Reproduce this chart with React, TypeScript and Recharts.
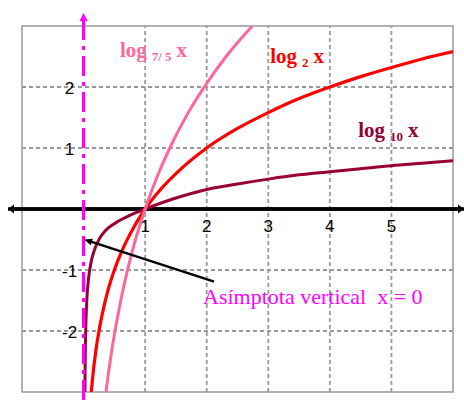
import { LineChart, Line, XAxis, YAxis, ReferenceLine, ReferenceArea, ReferenceDot } from 'recharts';

// sample points along each logarithm curve
const xLog75 = [0.364, 0.4, 0.45, 0.5, 0.6, 0.7, 0.8, 0.9, 1, 1.2, 1.4, 1.7, 2, 2.3, 2.74];
const yLog75 = [-3, -2.72, -2.37, -2.06, -1.52, -1.06, -0.66, -0.31, 0, 0.54, 1, 1.58, 2.06, 2.48, 3];

const xLog2 = [0.125, 0.15, 0.2, 0.25, 0.3, 0.4, 0.5, 0.6, 0.75, 1, 1.25, 1.5, 2, 2.5, 3, 3.5, 4, 4.5, 5, 5.5, 6];
const yLog2 = [-3, -2.74, -2.32, -2, -1.74, -1.32, -1, -0.74, -0.42, 0, 0.32, 0.58, 1, 1.32, 1.58, 1.81, 2, 2.17, 2.32, 2.46, 2.58];

const xLog10 = [0.022, 0.025, 0.03, 0.04, 0.055, 0.08, 0.12, 0.18, 0.25, 0.35, 0.5, 0.7, 0.85, 1, 1.5, 2, 2.5, 3, 3.5, 4, 4.5, 5, 5.5, 6];
const yLog10 = [-3, -2.6, -2.2, -1.8, -1.45, -1.15, -0.88, -0.66, -0.5, -0.36, -0.24, -0.13, -0.06, 0, 0.18, 0.32, 0.41, 0.49, 0.56, 0.61, 0.66, 0.71, 0.75, 0.79];

const gridX = [1, 2, 3, 4, 5];
const gridY = [-2, -1, 1, 2];
const xTickLabels = ['1', '2', '3', '4', '5'];
const yTickLabels = ['2', '1', '-1', '-2'];
const yTickValues = [2, 1, -1, -2];

const toPoints = (xs: number[], ys: number[]) => xs.map((x, i) => ({ x, y: ys[i] }));

const PINK = '#ff6699';
const RED = '#ff0000';
const MAROON = '#990033';
const MAGENTA = '#ff00ff';
const GRAY = '#999999';

const serif = '"Liberation Serif", "Times New Roman", serif';
const sans = '"Liberation Sans", Arial, sans-serif';

// line with a filled arrowhead at (x2, y2)
const arrow = (x1: number, y1: number, x2: number, y2: number, color: string, width: number, len: number, half: number) => {
  const dx = x2 - x1;
  const dy = y2 - y1;
  const d = Math.hypot(dx, dy) || 1;
  const ux = dx / d;
  const uy = dy / d;
  const bx = x2 - ux * len;
  const by = y2 - uy * len;
  const pts = `${x2},${y2} ${bx - uy * half},${by + ux * half} ${bx + uy * half},${by - ux * half}`;
  return (
    <g>
      <line x1={x1} y1={y1} x2={bx + ux} y2={by + uy} stroke={color} strokeWidth={width} />
      <polygon points={pts} fill={color} />
    </g>
  );
};

const logLabel = (sub: string, color: string) => (p: any) => (
  <text x={p.cx} y={p.cy} fill={color} fontFamily={serif} fontWeight="bold" fontSize={21}>
    <tspan>log</tspan>
    <tspan dx={5} dy={4} fontSize={13}>{sub}</tspan>
    <tspan dx={5} dy={-4}>x</tspan>
  </text>
);

export default function App() {
  return (
    <div style={{ position: 'absolute', left: 0, top: 0, background: '#fff' }}>
      <LineChart width={464} height={401} margin={{ top: 26, right: 11, bottom: 9, left: 22 }}>
        <XAxis type="number" dataKey="x" domain={[-1, 6]} allowDataOverflow hide />
        <YAxis type="number" dataKey="y" domain={[-3, 3]} allowDataOverflow hide />

        {gridX.map((v) => (
          <ReferenceLine key={`gx${v}`} x={v} stroke={GRAY} strokeWidth={1.8} strokeDasharray="4 3" />
        ))}
        {gridY.map((v) => (
          <ReferenceLine key={`gy${v}`} y={v} stroke={GRAY} strokeWidth={1.8} strokeDasharray="4 3" />
        ))}
        <ReferenceArea x1={-1} x2={6} y1={-3} y2={3} fill="none" fillOpacity={0} stroke={GRAY} strokeWidth={1.5} />

        {/* horizontal axis with arrowheads on both ends */}
        <ReferenceLine
          y={0}
          shape={(p: any) => (
            <g>
              {arrow(p.x1 - 14, p.y1, p.x2 + 11, p.y2, '#000', 3.5, 6, 4.5)}
              {arrow(p.x2 + 11, p.y2, p.x1 - 14, p.y1, '#000', 3.5, 6, 4.5)}
            </g>
          )}
        />

        <Line data={toPoints(xLog10, yLog10)} dataKey="y" type="monotone" stroke={MAROON} strokeWidth={3} dot={false} isAnimationActive={false} />
        <Line data={toPoints(xLog2, yLog2)} dataKey="y" type="monotone" stroke={RED} strokeWidth={3.2} dot={false} isAnimationActive={false} />
        <Line data={toPoints(xLog75, yLog75)} dataKey="y" type="monotone" stroke={PINK} strokeWidth={3} dot={false} isAnimationActive={false} />

        {/* vertical asymptote x = 0 */}
        <ReferenceLine
          x={0}
          shape={(p: any) => {
            const top = Math.min(p.y1, p.y2);
            const bottom = Math.max(p.y1, p.y2);
            return (
              <g>
                <line x1={p.x1} y1={top - 6} x2={p.x1} y2={bottom + 10} stroke={MAGENTA} strokeWidth={3.2} strokeDasharray="20 6 4 6" />
                <polygon points={`${p.x1},${top - 13} ${p.x1 - 4},${top - 5} ${p.x1 + 4},${top - 5}`} fill={MAGENTA} />
              </g>
            );
          }}
        />

        {xTickLabels.map((t, i) => (
          <ReferenceDot
            key={`xt${t}`}
            x={gridX[i]}
            y={0}
            r={0}
            shape={(p: any) => (
              <text x={p.cx} y={p.cy + 17} textAnchor="middle" dominantBaseline="central" fontFamily={sans} fontSize={17} fill="#000">
                {t}
              </text>
            )}
          />
        ))}
        {yTickLabels.map((t, i) => (
          <ReferenceDot
            key={`yt${t}`}
            x={0}
            y={yTickValues[i]}
            r={0}
            shape={(p: any) => (
              <text x={p.cx - 14} y={p.cy + 1} textAnchor="middle" dominantBaseline="central" fontFamily={sans} fontSize={17} fill="#000">
                {t}
              </text>
            )}
          />
        ))}

        <ReferenceDot x={0.59} y={2.5} r={0} shape={logLabel('7/ 5', PINK)} />
        <ReferenceDot x={3.03} y={2.39} r={0} shape={logLabel('2', RED)} />
        <ReferenceDot x={4.46} y={1.18} r={0} shape={logLabel('10', MAROON)} />

        {/* pointer to the asymptote */}
        <ReferenceLine
          segment={[{ x: 2.12, y: -1.19 }, { x: 0.01, y: -0.5 }]}
          ifOverflow="visible"
          shape={(p: any) => arrow(p.x1, p.y1, p.x2, p.y2, '#000', 2.5, 8, 3.5)}
        />
        <ReferenceDot
          x={1.94}
          y={-1.56}
          r={0}
          shape={(p: any) => (
            <text x={p.cx} y={p.cy} fill={MAGENTA} fontFamily={serif} fontSize={22} style={{ whiteSpace: 'pre' }}>
              Asímptota vertical  x = 0
            </text>
          )}
        />
      </LineChart>
    </div>
  );
}
